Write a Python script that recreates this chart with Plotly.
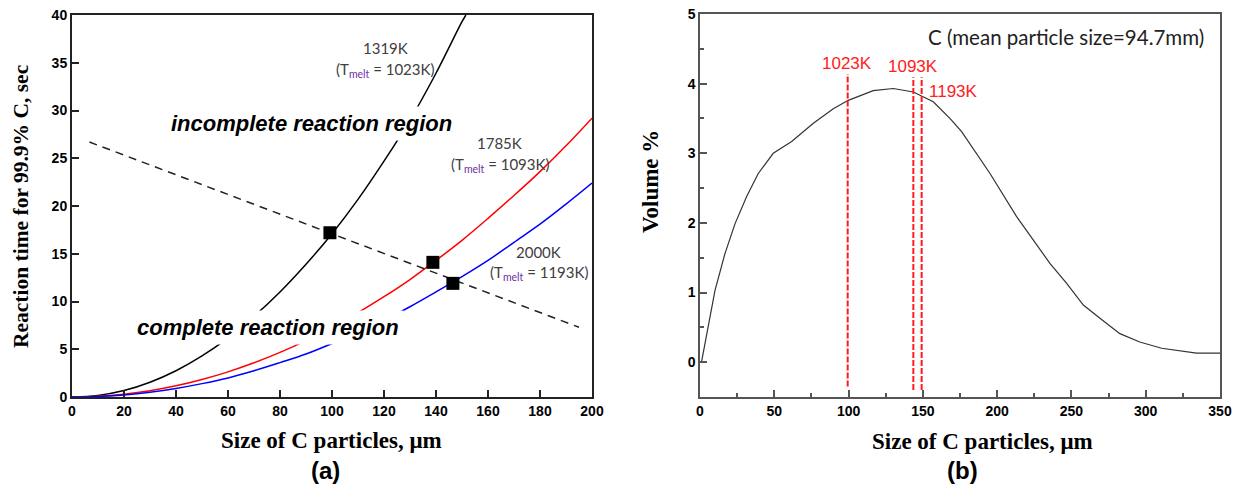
import plotly.graph_objects as go

# page body has an 8px margin; the figure is sized to fit the 1245x495 window
OFF = 8
W, H = 1245 - OFF, 495 - OFF

# ---------------- panel (a) data ----------------
size_a = [0, 10, 20, 30, 40, 50, 60, 70, 80, 90, 100, 110, 120, 130, 140, 150, 151.5]
t_1319 = [0, 0.17, 0.68, 1.55, 2.75, 4.3, 6.2, 8.45, 11.0, 13.9, 17.1, 20.7, 24.7, 29.0, 33.9, 39.3, 40.0]

size_b = [0, 10, 20, 30, 40, 50, 60, 70, 80, 90, 100, 110, 120, 130, 140, 150, 160, 170, 180, 190, 200]
t_1785 = [0, 0.07, 0.3, 0.66, 1.17, 1.83, 2.63, 3.58, 4.67, 5.9, 7.3, 8.83, 10.5, 12.3, 14.3, 16.4, 18.7, 21.1, 23.6, 26.3, 29.2]
t_2000 = [0, 0.06, 0.22, 0.5, 0.9, 1.4, 2.0, 2.75, 3.6, 4.5, 5.6, 6.8, 8.05, 9.45, 11.0, 12.6, 14.3, 16.2, 18.1, 20.2, 22.4]

boundary_x = [6.7, 195]
boundary_t = [26.7, 7.3]

cross_x = [99.2, 138.8, 146.5]
cross_t = [17.2, 14.1, 11.9]

# ---------------- panel (b) data ----------------
dist_x = [1, 5.6, 10.1, 16.8, 23.6, 31.4, 39.2, 49.3, 61.7, 76.3, 89.7, 99.8, 116.6, 130.1, 143.6,
          157, 168.2, 176.1, 195.2, 213.1, 224.3, 235.5, 246.8, 258, 269.2, 282.6, 296, 310.7, 334.2, 350]
dist_v = [0, 0.51, 1.03, 1.56, 1.99, 2.38, 2.71, 3.0, 3.17, 3.43, 3.64, 3.76, 3.90, 3.93, 3.88,
          3.74, 3.50, 3.31, 2.71, 2.09, 1.75, 1.42, 1.13, 0.82, 0.63, 0.41, 0.29, 0.20, 0.13, 0.13]

melt_labels = ["1023K", "1093K", "1193K"]
melt_x = [99.4, 143.6, 149.2]
melt_top = [4.14, 4.09, 4.09]
melt_bottom = [-0.35, -0.40, -0.40]
melt_label_x = [98.9, 143.4, 170.3]
melt_label_y = [4.29, 4.24, 3.88]


def fx(px):
    return (px - OFF) / W


def fy(py):
    return 1 - (py - OFF) / H


fig = go.Figure()

# panel (a)
fig.add_trace(go.Scatter(x=size_a, y=t_1319, mode="lines", line=dict(color="black", width=1.5, shape="spline"),
                         xaxis="x", yaxis="y", showlegend=False))
fig.add_trace(go.Scatter(x=size_b, y=t_1785, mode="lines", line=dict(color="#ff0000", width=1.5, shape="spline"),
                         xaxis="x", yaxis="y", showlegend=False))
fig.add_trace(go.Scatter(x=size_b, y=t_2000, mode="lines", line=dict(color="#0000ff", width=1.5, shape="spline"),
                         xaxis="x", yaxis="y", showlegend=False))
fig.add_trace(go.Scatter(x=boundary_x, y=boundary_t, mode="lines",
                         line=dict(color="#222", width=1.5, dash="8px,6px"),
                         xaxis="x", yaxis="y", showlegend=False))
fig.add_trace(go.Scatter(x=cross_x, y=cross_t, mode="markers",
                         marker=dict(symbol="square", size=13, color="black"),
                         xaxis="x", yaxis="y", showlegend=False))

# panel (b)
fig.add_trace(go.Scatter(x=dist_x, y=dist_v, mode="lines", line=dict(color="#333", width=1.2),
                         xaxis="x2", yaxis="y2", showlegend=False))
for mx, top, bot in zip(melt_x, melt_top, melt_bottom):
    fig.add_trace(go.Scatter(x=[mx, mx], y=[bot, top], mode="lines",
                             line=dict(color="#ff1a1a", width=2, dash="6px,2px"),
                             xaxis="x2", yaxis="y2", showlegend=False))

tickfont = dict(family="Liberation Sans, Arial", size=14, color="black", weight="bold")
axis_common = dict(showgrid=False, zeroline=False, showline=True, mirror=True, automargin=False,
                   ticklabeloverflow="allow",
                   ticks="inside", ticklen=7, tickwidth=1.5, tickfont=tickfont)

fig.update_layout(
    width=W, height=H,
    margin=dict(l=0, r=0, t=0, b=0, pad=0),
    paper_bgcolor="white", plot_bgcolor="white",
    xaxis=dict(domain=[fx(72), fx(592)], range=[0, 200], tickvals=list(range(0, 201, 20)), anchor="y",
               linecolor="#222", linewidth=2, tickcolor="#222", **axis_common),
    yaxis=dict(domain=[fy(397), fy(15)], range=[0, 40], tickvals=list(range(0, 41, 5)), anchor="x",
               linecolor="#222", linewidth=2, tickcolor="#222", **axis_common),
    xaxis2=dict(domain=[fx(700), fx(1220)], range=[0, 350], tickvals=list(range(0, 351, 50)), anchor="y2",
                linecolor="#555", linewidth=1.5, tickcolor="#555",
                minor=dict(tickvals=list(range(25, 350, 50)), ticks="inside", ticklen=4, tickcolor="#555"),
                **axis_common),
    yaxis2=dict(domain=[fy(397), fy(14)], range=[-0.5, 5], tickvals=[0, 1, 2, 3, 4, 5], anchor="x2",
                linecolor="#555", linewidth=1.5, tickcolor="#555",
                minor=dict(tickvals=[0.5, 1.5, 2.5, 3.5, 4.5], ticks="inside", ticklen=4, tickcolor="#555"),
                **axis_common),
)

ann = []


def paper_text(text, px, py, font, angle=0):
    return dict(text=text, x=fx(px), y=fy(py), xref="paper", yref="paper",
                xanchor="center", yanchor="middle", textangle=angle, showarrow=False, font=font)


def serif(size):
    return dict(family="Liberation Serif, Times New Roman", size=size, color="black", weight="bold")


# axis titles
ann.append(paper_text("Reaction time for 99.9% C, sec", 21, 207, serif(21.5), -90))
ann.append(paper_text("Size of C particles, \u03bcm", 331, 440, serif(23)))
ann.append(paper_text("Volume %", 650, 182, serif(23), -90))
ann.append(paper_text("Size of C particles, \u03bcm", 982, 441, serif(23)))
# panel labels
panel_font = dict(family="Liberation Sans, Arial", size=24, color="black", weight="bold")
ann.append(paper_text("(a)", 326, 470, panel_font))
ann.append(paper_text("(b)", 962, 470, panel_font))

# region labels
region_font = dict(family="Liberation Sans, Arial", size=22, color="black", weight="bold", style="italic")
ann.append(dict(text="incomplete reaction region", x=92.3, y=28.6, xref="x", yref="y", showarrow=False,
                font=region_font, bgcolor="white", borderpad=4))
ann.append(dict(text="complete reaction region", x=75.4, y=7.3, xref="x", yref="y", showarrow=False,
                font=region_font, bgcolor="white", borderpad=4))

# temperature labels
lab_font = dict(family="Lato, Open Sans", size=15, color="#404040")
sub = "<sub><span style='color:#7030a0'>melt</span></sub>"
temp_labels = [("1319K", "1023K", 120.4, 36.5, 34.2),
               ("1785K", "1093K", 164.6, 26.6, 24.3),
               ("2000K", "1193K", 179.6, 15.2, 13.0)]
for tk, tm, lx, ly1, ly2 in temp_labels:
    ann.append(dict(text=tk, x=lx, y=ly1, xref="x", yref="y", showarrow=False, font=lab_font))
    ann.append(dict(text="(T" + sub + " = " + tm + ")", x=lx, y=ly2, xref="x", yref="y",
                    showarrow=False, font=lab_font))

# panel (b) labels
for txt, lx, ly in zip(melt_labels, melt_label_x, melt_label_y):
    ann.append(dict(text=txt, x=lx, y=ly, xref="x2", yref="y2", showarrow=False,
                    font=dict(family="Liberation Sans, Arial", size=17, color="#ff2020")))
ann.append(dict(text="C (mean particle size=94.7mm)", x=246.3, y=4.67, xref="x2", yref="y2", showarrow=False,
                font=dict(family="Lato, Open Sans", size=20.5, color="#222")))

fig.update_layout(annotations=ann)
fig.write_html("out.html")
